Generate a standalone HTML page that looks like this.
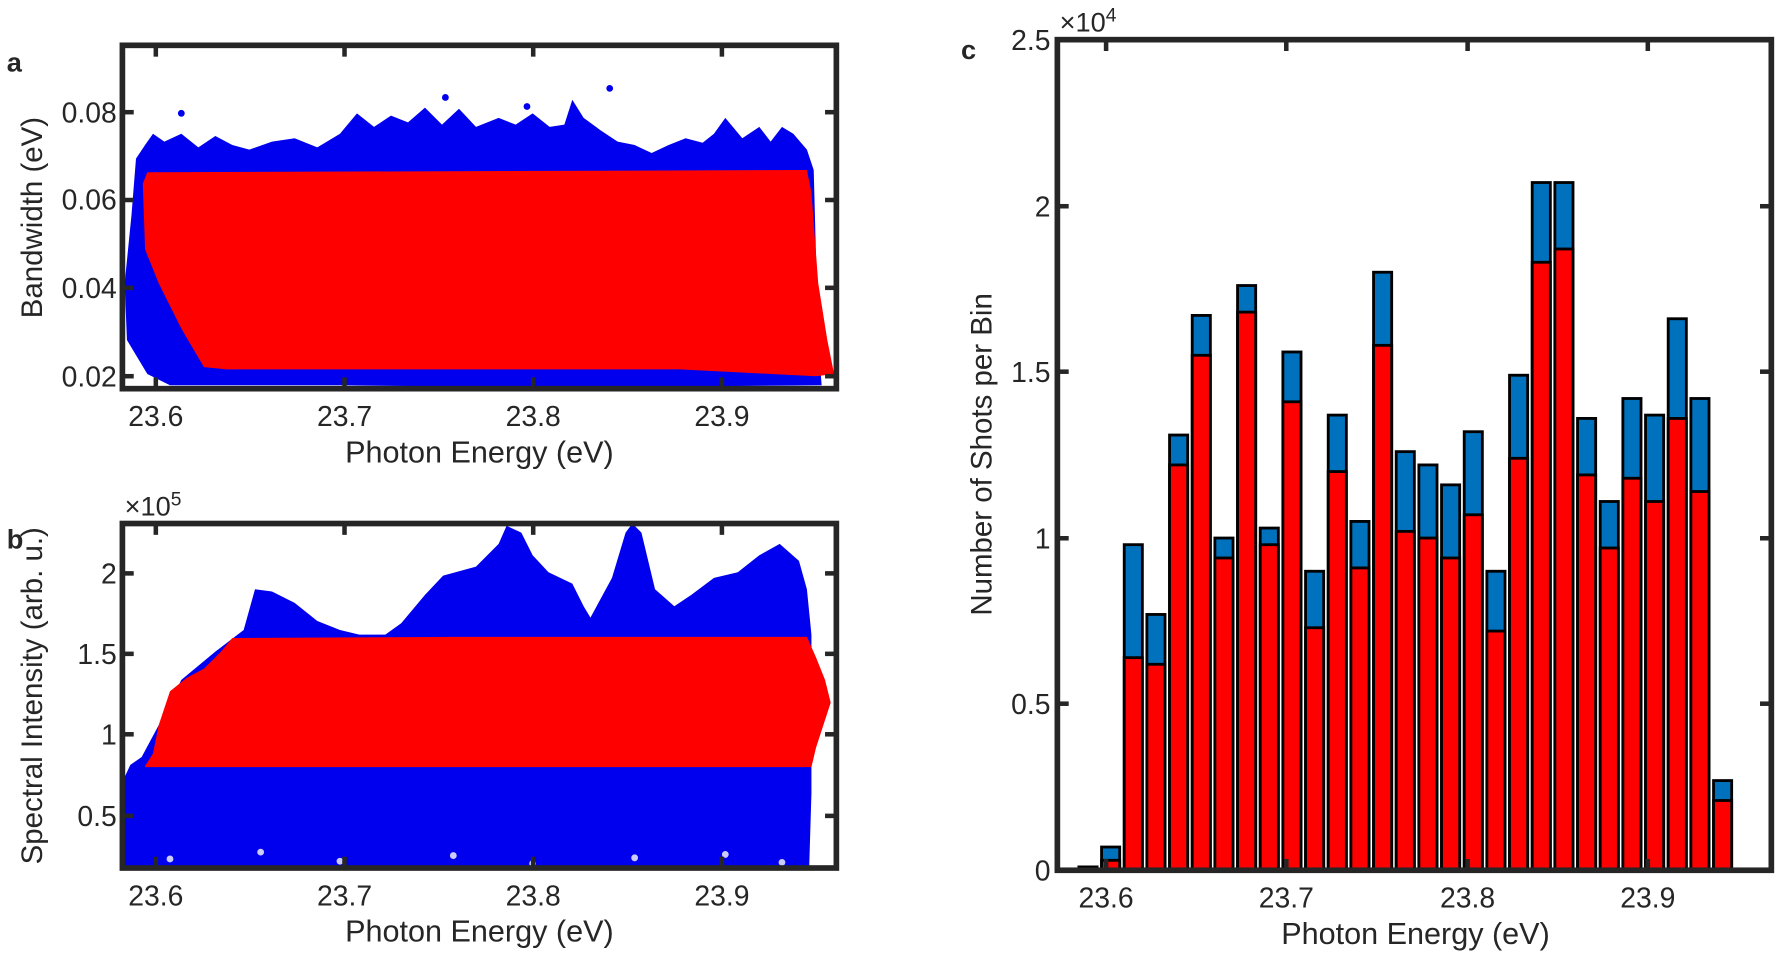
<!DOCTYPE html>
<html><head><meta charset="utf-8"><style>
html,body{margin:0;padding:0;background:#fff}
svg{display:block}
text{font-family:"Liberation Sans",Arial,sans-serif;fill:#262626}
</style></head><body>
<svg width="1777" height="953" viewBox="0 0 1568 841" preserveAspectRatio="none" xmlns="http://www.w3.org/2000/svg">
<defs>
<clipPath id="ca"><rect x="108" y="40" width="630" height="303"/></clipPath>
<clipPath id="cb"><rect x="108" y="462" width="630" height="304"/></clipPath>
</defs>
<!-- Panel a -->
<g clip-path="url(#ca)">
<polygon fill="#0000ee" points="110,250 116,190 120,140 128,128 135,118 145,125 160,118 175,130 190,120 205,128 220,132 240,125 260,122 280,130 300,118 315,100 330,112 345,102 360,108 375,95 390,110 405,96 420,112 440,104 455,110 470,100 485,112 498,110 505,88 515,104 530,115 545,125 560,128 575,135 590,128 605,122 620,126 630,118 640,104 655,122 670,112 680,125 690,112 700,118 712,132 718,150 722,300 725,340 500,342 300,340 150,340 130,330 112,300"/>
<polygon fill="#ff0000" points="126,162 130,152 712,150 716,170 722,250 730,300 736,330 720,332 600,326 400,326 200,326 180,324 160,290 140,250 128,220"/>
<g fill="#0000ee"><circle cx="160" cy="100" r="3"/><circle cx="393" cy="86" r="3"/><circle cx="465" cy="94" r="3"/><circle cx="538" cy="78" r="3"/><circle cx="670" cy="118" r="3"/><circle cx="118" cy="250" r="3"/></g>
</g>
<rect x="108" y="40" width="630" height="303" fill="none" stroke="#262626" stroke-width="5"/>
<g stroke="#262626" stroke-width="4">
<line x1="137.5" y1="42" x2="137.5" y2="50"/><line x1="304" y1="42" x2="304" y2="50"/><line x1="470.5" y1="42" x2="470.5" y2="50"/><line x1="637" y1="42" x2="637" y2="50"/>
<line x1="137.5" y1="341" x2="137.5" y2="333"/><line x1="304" y1="341" x2="304" y2="333"/><line x1="470.5" y1="341" x2="470.5" y2="333"/><line x1="637" y1="341" x2="637" y2="333"/>
<line x1="110" y1="99" x2="118" y2="99"/><line x1="110" y1="176.5" x2="118" y2="176.5"/><line x1="110" y1="254" x2="118" y2="254"/><line x1="110" y1="332" x2="118" y2="332"/>
<line x1="736" y1="99" x2="728" y2="99"/><line x1="736" y1="176.5" x2="728" y2="176.5"/><line x1="736" y1="254" x2="728" y2="254"/><line x1="736" y1="332" x2="728" y2="332"/>
</g>
<g font-size="25" text-anchor="end">
<text x="103" y="108">0.08</text><text x="103" y="185">0.06</text><text x="103" y="263">0.04</text><text x="103" y="341">0.02</text>
</g>
<g font-size="25" text-anchor="middle">
<text x="137.5" y="376">23.6</text><text x="304" y="376">23.7</text><text x="470.5" y="376">23.8</text><text x="637" y="376">23.9</text>
<text x="423" y="408" font-size="27">Photon Energy (eV)</text>
</g>
<text transform="translate(37,192) rotate(-90)" font-size="26" text-anchor="middle">Bandwidth (eV)</text>
<text x="6" y="63" font-size="24" font-weight="bold">a</text>

<!-- Panel b -->
<g clip-path="url(#cb)">
<polygon fill="#0000ee" points="108,690 115,675 125,668 140,640 160,600 190,575 215,556 225,520 240,522 260,532 280,548 300,556 317,560 340,560 354,550 375,525 391,508 420,500 440,480 447,464 460,470 470,490 484,505 505,515 515,535 521,545 540,510 552,470 558,462 566,470 578,520 595,535 610,525 630,510 651,505 670,490 688,480 705,495 712,520 716,560 716,700 714,766 108,766"/>
<polygon fill="#ff0000" points="128,676 135,665 140,640 150,610 165,598 180,590 195,575 205,563 400,562 712,562 720,580 728,600 733,620 720,660 716,677 128,677"/>
<g fill="#fff" opacity="0.8"><circle cx="150" cy="758" r="3"/><circle cx="230" cy="752" r="3"/><circle cx="300" cy="760" r="3"/><circle cx="400" cy="755" r="3"/><circle cx="470" cy="762" r="3"/><circle cx="560" cy="757" r="3"/><circle cx="640" cy="754" r="3"/><circle cx="690" cy="761" r="3"/></g>
</g>
<rect x="108" y="462" width="630" height="304" fill="none" stroke="#262626" stroke-width="5"/>
<g stroke="#262626" stroke-width="4">
<line x1="137.5" y1="464" x2="137.5" y2="472"/><line x1="304" y1="464" x2="304" y2="472"/><line x1="470.5" y1="464" x2="470.5" y2="472"/><line x1="637" y1="464" x2="637" y2="472"/>
<line x1="137.5" y1="764" x2="137.5" y2="756"/><line x1="304" y1="764" x2="304" y2="756"/><line x1="470.5" y1="764" x2="470.5" y2="756"/><line x1="637" y1="764" x2="637" y2="756"/>
<line x1="110" y1="506" x2="118" y2="506"/><line x1="110" y1="577" x2="118" y2="577"/><line x1="110" y1="648" x2="118" y2="648"/><line x1="110" y1="720" x2="118" y2="720"/>
<line x1="736" y1="506" x2="728" y2="506"/><line x1="736" y1="577" x2="728" y2="577"/><line x1="736" y1="648" x2="728" y2="648"/><line x1="736" y1="720" x2="728" y2="720"/>
</g>
<g font-size="25" text-anchor="end">
<text x="103" y="515">2</text><text x="103" y="586">1.5</text><text x="103" y="657">1</text><text x="103" y="729">0.5</text>
</g>
<text x="110" y="455" font-size="24">×10<tspan font-size="17" dy="-9">5</tspan></text>
<g font-size="25" text-anchor="middle">
<text x="137.5" y="799">23.6</text><text x="304" y="799">23.7</text><text x="470.5" y="799">23.8</text><text x="637" y="799">23.9</text>
<text x="423" y="831" font-size="27">Photon Energy (eV)</text>
</g>
<text transform="translate(37,614) rotate(-90)" font-size="26" text-anchor="middle">Spectral Intensity (arb. u.)</text>
<text x="6" y="484" font-size="24" font-weight="bold">b</text>

<!-- Panel c -->
<g id="bars" stroke="#000" stroke-width="2.5"></g>
<rect x="933" y="35" width="630" height="733" fill="none" stroke="#262626" stroke-width="5"/>
<g stroke="#262626" stroke-width="4">
<line x1="976" y1="37" x2="976" y2="45"/><line x1="1135" y1="37" x2="1135" y2="45"/><line x1="1295" y1="37" x2="1295" y2="45"/><line x1="1454" y1="37" x2="1454" y2="45"/>
<line x1="976" y1="766" x2="976" y2="758"/><line x1="1135" y1="766" x2="1135" y2="758"/><line x1="1295" y1="766" x2="1295" y2="758"/><line x1="1454" y1="766" x2="1454" y2="758"/>
<line x1="935" y1="182" x2="943" y2="182"/><line x1="935" y1="328" x2="943" y2="328"/><line x1="935" y1="475" x2="943" y2="475"/><line x1="935" y1="621" x2="943" y2="621"/>
<line x1="1561" y1="182" x2="1553" y2="182"/><line x1="1561" y1="328" x2="1553" y2="328"/><line x1="1561" y1="475" x2="1553" y2="475"/><line x1="1561" y1="621" x2="1553" y2="621"/>
</g>
<g font-size="25" text-anchor="end">
<text x="927" y="44">2.5</text><text x="927" y="191">2</text><text x="927" y="337">1.5</text><text x="927" y="484">1</text><text x="927" y="630">0.5</text><text x="927" y="777">0</text>
</g>
<text x="935" y="28" font-size="24">×10<tspan font-size="17" dy="-9">4</tspan></text>
<g font-size="25" text-anchor="middle">
<text x="976" y="801">23.6</text><text x="1135" y="801">23.7</text><text x="1295" y="801">23.8</text><text x="1454" y="801">23.9</text>
<text x="1249" y="833" font-size="27">Photon Energy (eV)</text>
</g>
<text transform="translate(875,401) rotate(-90)" font-size="26" text-anchor="middle">Number of Shots per Bin</text>
<text x="848" y="52" font-size="24" font-weight="bold">c</text>
</svg>
<script>
var d=[[0.01,0.01],[0.07,0.03],[0.98,0.64],[0.77,0.62],[1.31,1.22],[1.67,1.55],[1.0,0.94],[1.76,1.68],[1.03,0.98],[1.56,1.41],[0.90,0.73],[1.37,1.20],[1.05,0.91],[1.80,1.58],[1.26,1.02],[1.22,1.00],[1.16,0.94],[1.32,1.07],[0.90,0.72],[1.49,1.24],[2.07,1.83],[2.07,1.87],[1.36,1.19],[1.11,0.97],[1.42,1.18],[1.37,1.11],[1.66,1.36],[1.42,1.14],[0.27,0.21]];
var g=document.getElementById('bars'),s='',y0=768,k=293.2;
d.forEach(function(v,i){var x=952+i*20,w=16;var yt=y0-v[0]*k,yr=y0-v[1]*k;
s+='<rect x="'+x+'" y="'+yt+'" width="'+w+'" height="'+(y0-yt)+'" fill="#0072bd"/>';
s+='<rect x="'+x+'" y="'+yr+'" width="'+w+'" height="'+(y0-yr)+'" fill="#ff0000"/>';});
g.innerHTML=s;
</script>
</body></html>
